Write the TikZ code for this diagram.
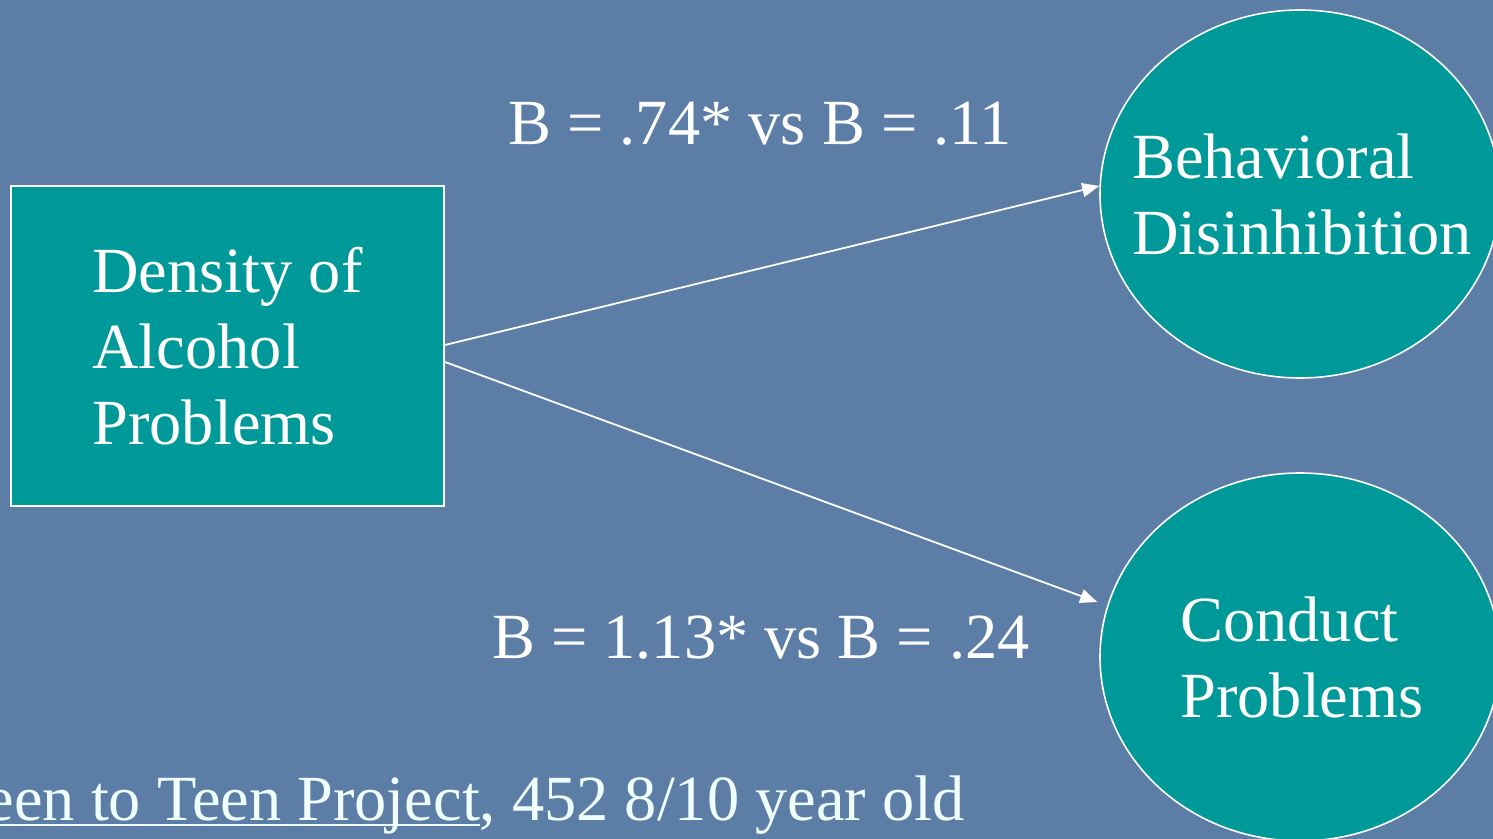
\documentclass[tikz,border=0pt]{standalone}
\usepackage{fontspec}
\setmainfont{Liberation Serif}
\newfontfamily\tnr{Liberation Serif}
\usetikzlibrary{shapes.geometric,arrows.meta,calc}
\definecolor{bgblue}{RGB}{92,126,166}
\definecolor{tealfill}{RGB}{0,153,153}
\definecolor{offwhite}{RGB}{240,255,255}
\newcommand{\myul}[1]{{\setbox0\hbox{#1}\rlap{\rule[-0.1em]{\wd0}{0.045em}}\box0}}
\tikzset{
  bigtext/.style={font=\tnr\fontsize{32.2}{38}\selectfont, text=white},
  boxnode/.style={draw=white, line width=1pt, fill=tealfill, minimum width=216.5pt, minimum height=160pt, inner sep=0pt, align=left},
  ellnode/.style={ellipse, draw=white, line width=0.8pt, fill=tealfill, minimum width=200pt, minimum height=184pt, inner sep=0pt},
  ellText/.style={bigtext, align=left, inner sep=0pt},
  conn/.style={draw=white, line width=0.9pt, -{Triangle[length=8.5pt,width=7pt]}},
  lab/.style={bigtext, anchor=base, inner sep=0pt}
}
\begin{document}
\begin{tikzpicture}[x=0.5pt,y=-0.5pt]
\useasboundingbox (0,0) rectangle (1493,839);
\clip (0,0) rectangle (1493,839);
\fill[bgblue] (0,0) rectangle (1493,839);
\node[boxnode, bigtext] (dens) at (227.5,346) {Density of\\Alcohol\\Problems};
\node[ellnode] (bd) at (1300,194) {};
\node[ellText] (bdt) at ([xshift=1pt]bd.center) {Behavioral\\Disinhibition};
\node[ellnode] (cp) at (1300,657) {};
\node[ellText] (cpt) at ([xshift=1pt]cp.center) {Conduct\\Problems};
\draw[conn] ([yshift=0.5pt]dens.east) -- ([yshift=4pt]bd.west);
\draw[conn] ([yshift=-8pt]dens.east) -- ([xshift=-1pt,yshift=27.5pt]cp.west);
\node[lab] (l1) at (760,145) {B = .74* vs B = .11};
\node[lab] (l2) at (761,658) {B = 1.13* vs B = .24};
\node[bigtext, text=offwhite, anchor=base east, inner sep=0pt] (src) at (965,820) {\myul{Teen to Teen Project}, 452 8/10 year old};
\end{tikzpicture}
\end{document}
